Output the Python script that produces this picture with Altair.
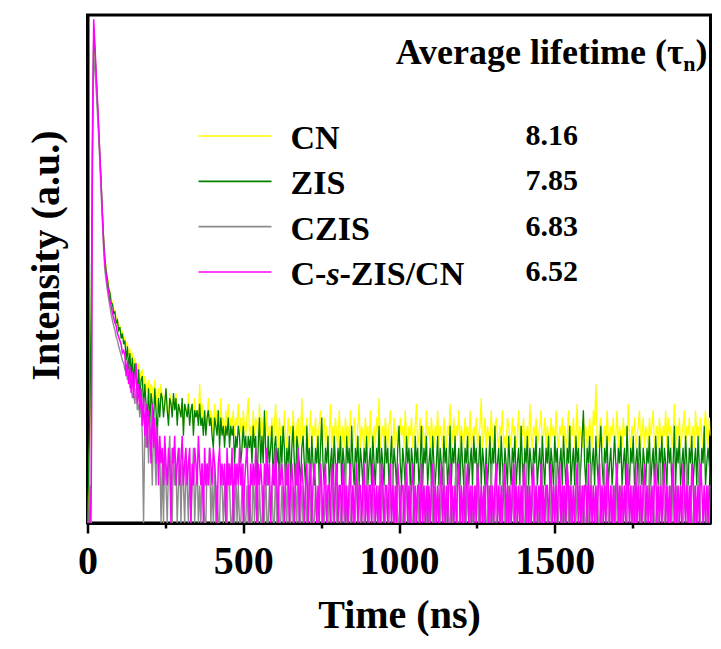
import altair as alt
import pandas as pd

SERIES = ["CN", "ZIS", "CZIS", "C-s-ZIS/CN"]
LIFETIMES = ["8.16", "7.85", "6.83", "6.52"]
COLORS = ["#FFFF00", "#008000", "#8C8C8C", "#FF00FF"]
HEADER = "Average lifetime (τ"
HEADER_SUB = "n"
HEADER_END = ")"
X_TICKS = [0, 250, 500, 750, 1000, 1250, 1500, 1750]

# time channels (ns), 4 ns apart
TIME_NS = list(range(0, 2001, 4))

CN_COUNTS = [
    1, 2, 6, 40, 900, 8000, 5600, 3500, 2200, 1350, 830, 500, 300, 190, 135,
    108, 92, 80, 71, 63, 58, 52, 50, 44, 43, 38, 38, 33, 34, 29, 31, 26, 28, 22, 25,
    20, 23, 17, 21, 18, 15, 19, 14, 16, 17, 12, 15, 13, 11, 14, 10, 13, 12, 9, 14,
    11, 8, 12, 10, 13,
    10, 8, 9, 12, 8, 7, 11, 9, 8, 10, 9, 11, 7, 9, 8, 8, 10, 6, 9, 8,
    8, 11, 7, 8, 9, 6, 10, 7, 8, 7, 13, 7, 9, 6, 8, 6, 7, 10, 6, 8,
    7, 5, 9, 6, 8, 7, 5, 10, 6, 7, 5, 8, 6, 9, 5, 7, 6, 8, 5, 7,
    6, 9, 5, 7, 4, 8, 6, 5, 7, 10, 5, 6, 4, 8, 5, 7, 6, 4, 9, 5,
    7, 4, 6, 5, 8, 4, 6, 5, 7, 4, 6, 9, 5, 4, 7, 5, 6, 4, 8, 5,
    4, 7, 5, 6, 4, 8, 5, 4, 6, 7, 4, 5, 10, 4, 6, 5, 7, 4, 5, 8,
    4, 6, 5, 7, 4, 5, 6, 8, 4, 5, 7, 4, 6, 4, 5, 9, 4, 6, 5, 7,
    5, 4, 8, 5, 4, 6, 4, 7, 5, 6, 4, 8, 5, 4, 7, 5, 4, 6, 9, 4,
    6, 5, 4, 7, 5, 6, 4, 8, 4, 5, 6, 4, 7, 5, 10, 4, 5, 6, 4, 7,
    5, 4, 6, 8, 5, 4, 7, 4, 5, 6, 4, 7, 5, 6, 4, 8, 5, 4, 6, 5,
    7, 4, 5, 6, 9, 4, 5, 7, 4, 6, 5, 4, 8, 5, 6, 4, 7, 5, 4, 6,
    5, 8, 4, 6, 5, 4, 7, 5, 4, 6, 5, 9, 4, 5, 7, 4, 6, 5, 8, 4,
    6, 5, 4, 7, 5, 6, 4, 8, 4, 5, 6, 5, 7, 4, 5, 6, 10, 4, 5, 7,
    4, 6, 5, 4, 8, 5, 4, 6, 7, 5, 4, 6, 5, 8, 4, 5, 4, 7, 6, 5,
    4, 7, 5, 6, 4, 5, 8, 4, 6, 5, 7, 4, 5, 6, 4, 9, 5, 4, 6, 5,
    7, 4, 5, 6, 8, 4, 5, 7, 4, 6, 5, 4, 7, 5, 6, 4, 8, 5, 4, 6,
    5, 7, 4, 6, 4, 5, 8, 4, 6, 5, 7, 4, 5, 9, 4, 6, 5, 4, 7, 5,
    6, 4, 5, 7, 5, 4, 8, 6, 13, 5, 4, 6, 7, 4, 5, 6, 4, 8, 5, 4,
    6, 5, 7, 4, 5, 8, 4, 6, 5, 4, 7, 5, 6, 4, 9, 5, 4, 6, 5, 7,
    4, 5, 6, 8, 4, 5, 7, 4, 6, 5, 4, 7, 5, 6, 8, 4, 5, 6, 4, 7,
    5, 4, 6, 5, 8, 4, 7, 5, 6, 4, 5, 9, 4, 6, 5, 7, 4, 5, 6, 8,
    4, 6, 5, 7, 4, 5, 6, 4, 8, 5, 6, 4, 7, 5, 4, 6, 8, 5, 4, 7,
    5,
]

ZIS_COUNTS = [
    0, 3, 8, 60, 1100, 9000, 6000, 3700, 2300, 1400, 850, 510, 300, 185, 130,
    104, 90, 75, 70, 58, 57, 48, 49, 40, 42, 35, 37, 30, 33, 27,
    29, 20, 26, 17, 23, 15, 21, 13, 19, 16, 11, 17, 10, 14, 15,
    8, 13, 9, 7, 12, 6, 11, 9, 6, 12, 8, 5, 10, 7, 11,
    10, 7, 9, 12, 8, 6, 10, 9, 7, 11, 8, 10, 6, 9, 8, 7, 10, 5, 9, 8,
    7, 9, 6, 8, 9, 5, 8, 7, 8, 6, 9, 6, 7, 5, 8, 5, 7, 8, 6, 7,
    5, 4, 7, 6, 5, 8, 4, 7, 5, 6, 4, 6, 5, 7, 4, 6, 5, 6, 3, 5,
    4, 6, 5, 3, 4, 6, 4, 5, 3, 5, 4, 5, 3, 6, 4, 5, 2, 4, 7, 3,
    5, 3, 8, 4, 2, 5, 3, 4, 6, 2, 4, 5, 3, 4, 2, 5, 3, 6, 4, 2,
    4, 3, 5, 2, 4, 6, 3, 2, 5, 4, 3, 2, 4, 5, 3, 2, 6, 3, 4, 2,
    5, 3, 2, 4, 3, 5, 2, 4, 7, 3, 2, 4, 3, 5, 2, 3, 4, 2, 5, 3,
    2, 4, 3, 5, 2, 4, 3, 2, 5, 3, 4, 2, 6, 3, 2, 4, 3, 5, 2, 4,
    3, 2, 4, 3, 5, 2, 3, 4, 2, 5, 3, 2, 4, 3, 6, 2, 4, 3, 2, 5,
    3, 4, 2, 3, 5, 2, 4, 3, 2, 4, 6, 3, 2, 4, 3, 2, 5, 3, 4, 2,
    4, 3, 2, 5, 3, 4, 2, 3, 6, 2, 4, 3, 5, 2, 3, 4, 2, 5, 3, 2,
    3, 5, 2, 4, 3, 2, 5, 3, 4, 2, 3, 6, 2, 4, 3, 5, 2, 3, 4, 2,
    5, 3, 2, 4, 3, 5, 2, 3, 4, 2, 5, 3, 4, 2, 3, 5, 2, 4, 3, 2,
    4, 2, 3, 5, 2, 4, 3, 6, 2, 3, 4, 2, 5, 3, 2, 4, 3, 2, 5, 3,
    2, 4, 3, 5, 2, 3, 4, 2, 6, 3, 2, 4, 3, 5, 2, 4, 3, 2, 4, 3,
    5, 2, 3, 4, 2, 5, 3, 2, 4, 3, 5, 2, 4, 3, 2, 5, 3, 4, 2, 3,
    4, 2, 5, 3, 2, 4, 3, 6, 2, 3, 4, 2, 5, 3, 4, 2, 3, 5, 8, 3,
    2, 4, 3, 5, 2, 3, 4, 2, 5, 3, 2, 4, 6, 3, 2, 4, 3, 5, 2, 3,
    4, 2, 3, 5, 3, 2, 4, 3, 5, 2, 3, 4, 2, 6, 3, 2, 4, 3, 5, 2,
    3, 4, 2, 5, 3, 2, 4, 3, 2, 4, 3, 5, 2, 3, 4, 2, 5, 3, 2, 4,
    3, 5, 2, 4, 3, 2, 5, 3, 4, 2, 3, 6, 2, 4, 3, 5, 2, 3, 4, 2,
    5, 3, 2, 4, 3, 5, 2, 3, 4, 2, 5, 3, 2, 4, 3, 6, 2, 3, 4, 3,
    2,
]

CZIS_COUNTS = [
    1, 0, 2, 1, 900, 5400, 4300, 2900, 1900, 1200, 720, 430, 250, 150, 105,
    86, 72, 62, 54, 47, 42, 38, 35, 31, 29, 26, 24, 22, 20, 19, 17, 18, 14, 15, 12,
    13, 10, 11, 9, 12, 8, 9, 7, 10, 5, 0, 6, 4, 7, 3, 6, 5, 2, 6, 4,
    2, 5, 3, 4, 0,
    3, 1, 4, 2, 0, 3, 5, 2, 1, 4, 2, 3, 0, 2, 4, 1, 3, 2, 0, 3,
    2, 1, 3, 0, 2, 4, 1, 2, 3, 0, 2, 1, 3, 2, 0, 1, 3, 2, 4, 1,
    2, 0, 3, 1, 2, 1, 0, 3, 2, 1, 2, 0, 1, 3, 2, 1, 0, 2, 1, 3,
    1, 2, 0, 1, 2, 3, 1, 0, 2, 1, 2, 1, 0, 3, 1, 2, 0, 1, 2, 1,
    0, 2, 1, 3, 1, 0, 2, 1, 2, 0, 1, 3, 1, 2, 0, 1, 2, 1, 0, 2,
    1, 3, 0, 1, 2, 1, 0, 2, 1, 3, 0, 1, 2, 0, 1, 2, 1, 0, 3, 1,
    2, 0, 1, 2, 1, 0, 2, 3, 1, 0, 1, 2, 0, 1, 2, 1, 0, 2, 1, 3,
    0, 1, 2, 1, 0, 2, 1, 3, 0, 1, 2, 1, 0, 2, 1, 0, 3, 1, 2, 0,
    1, 2, 0, 1, 3, 1, 0, 2, 1, 2, 0, 1, 2, 1, 0, 3, 1, 2, 0, 1,
    2, 1, 0, 2, 1, 3, 0, 1, 2, 0, 1, 2, 1, 0, 2, 1, 3, 0, 1, 2,
    0, 1, 2, 1, 0, 2, 1, 0, 3, 1, 2, 0, 1, 2, 1, 0, 2, 1, 3, 0,
    1, 2, 0, 1, 2, 1, 3, 0, 1, 2, 0, 1, 2, 1, 0, 2, 3, 1, 0, 1,
    2, 1, 0, 3, 1, 2, 0, 1, 2, 1, 0, 2, 1, 3, 0, 1, 2, 0, 1, 2,
    1, 0, 2, 1, 3, 0, 1, 2, 1, 0, 2, 1, 0, 2, 3, 1, 0, 1, 2, 1,
    0, 2, 1, 3, 0, 1, 2, 1, 0, 2, 1, 0, 3, 1, 2, 0, 1, 2, 1, 0,
    2, 1, 0, 2, 1, 3, 0, 1, 2, 0, 1, 2, 1, 0, 2, 1, 3, 0, 1, 2,
    1, 0, 2, 1, 0, 3, 1, 2, 0, 1, 2, 1, 0, 2, 1, 3, 0, 1, 2, 1,
    0, 2, 1, 0, 3, 1, 2, 0, 1, 2, 1, 0, 2, 1, 0, 3, 1, 2, 0, 1,
    2, 1, 0, 2, 1, 3, 0, 1, 2, 1, 0, 2, 1, 0, 3, 1, 2, 0, 1, 2,
    1, 0, 2, 3, 1, 0, 2, 1, 0, 2, 1, 3, 0, 1, 2, 1, 0, 2, 1, 0,
    3, 1, 2, 0, 1, 2, 1, 0, 2, 1, 3, 0, 1, 2, 0, 1, 2, 1, 0, 2,
    1, 3, 0, 1, 2, 1, 0, 2, 1, 0, 2, 3, 1, 0, 1, 2, 1, 0, 2, 1,
    2,
]

CSZIS_COUNTS = [
    0, 1, 0, 2, 1400, 10800, 6600, 3900, 2400, 1450, 860, 500, 290, 170, 118,
    96, 80, 70, 60, 55, 48, 44, 40, 38, 33, 31, 29, 27, 23, 24,
    22, 15, 20, 13, 18, 11, 16, 10, 14, 19, 9, 13, 8, 12, 6,
    10, 5, 9, 4, 8, 6, 3, 9, 4, 7, 3, 6, 2, 5, 3,
    4, 2, 5, 3, 2, 4, 3, 1, 4, 3, 5, 2, 3, 4, 2, 3, 5, 2, 3, 4,
    2, 3, 4, 1, 3, 2, 4, 3, 2, 5, 3, 2, 3, 1, 4, 2, 3, 2, 4, 3,
    2, 4, 3, 2, 1, 3, 4, 2, 3, 2, 3, 1, 4, 2, 3, 2, 4, 1, 3, 2,
    3, 2, 4, 2, 3, 1, 2, 3, 4, 2, 1, 3, 2, 3, 2, 4, 1, 3, 2, 3,
    2, 1, 3, 2, 4, 2, 3, 1, 2, 3, 2, 4, 2, 1, 3, 2, 3, 2, 1, 3,
    2, 3, 1, 2, 3, 2, 1, 3, 2, 4, 1, 2, 3, 2, 1, 2, 3, 1, 2, 3,
    1, 2, 3, 2, 1, 2, 0, 3, 2, 1, 2, 3, 1, 2, 2, 1, 3, 2, 1, 2,
    3, 1, 2, 2, 1, 3, 2, 1, 2, 0, 2, 3, 1, 2, 1, 2, 3, 1, 2, 2,
    1, 2, 3, 1, 2, 1, 2, 2, 1, 3, 2, 1, 2, 0, 2, 1, 3, 2, 1, 2,
    2, 1, 2, 3, 1, 2, 1, 2, 1, 3, 2, 1, 2, 2, 1, 2, 3, 1, 2, 1,
    2, 3, 1, 2, 1, 2, 2, 1, 3, 1, 2, 1, 2, 0, 2, 1, 2, 3, 1, 2,
    1, 2, 1, 2, 3, 1, 2, 1, 2, 1, 2, 3, 1, 2, 1, 2, 1, 2, 3, 1,
    2, 1, 2, 1, 2, 3, 1, 2, 0, 2, 1, 2, 1, 3, 2, 1, 2, 1, 2, 1,
    3, 2, 1, 2, 1, 2, 1, 2, 3, 1, 2, 1, 2, 1, 2, 3, 1, 2, 1, 2,
    1, 2, 3, 1, 2, 1, 2, 1, 2, 1, 3, 2, 1, 2, 0, 2, 1, 2, 3, 1,
    2, 1, 2, 1, 3, 1, 2, 1, 2, 2, 1, 2, 3, 1, 2, 1, 2, 1, 2, 3,
    1, 2, 1, 2, 1, 3, 2, 1, 2, 1, 2, 1, 2, 3, 1, 2, 1, 2, 1, 2,
    2, 1, 3, 1, 2, 1, 2, 0, 2, 1, 2, 3, 1, 2, 1, 2, 1, 3, 2, 1,
    2, 1, 2, 1, 2, 3, 1, 2, 1, 2, 1, 2, 1, 3, 2, 1, 2, 1, 2, 1,
    3, 1, 2, 1, 2, 1, 2, 3, 1, 2, 1, 2, 0, 2, 1, 2, 3, 1, 2, 1,
    2, 1, 2, 3, 1, 2, 1, 2, 1, 2, 3, 1, 2, 1, 2, 1, 2, 1, 3, 2,
    1, 2, 1, 2, 1, 3, 2, 1, 2, 1, 2, 1, 3, 2, 1, 2, 1, 2, 1, 2,
    2,
]

FONT = "Times New Roman, Liberation Serif, DejaVu Serif, serif"
ALL_COUNTS = [CN_COUNTS, ZIS_COUNTS, CZIS_COUNTS, CSZIS_COUNTS]
STROKES = [1.3, 1.3, 1.4, 1.5]

frames = []
for name, counts in zip(SERIES, ALL_COUNTS):
    n = min(len(counts), len(TIME_NS))
    frames.append(pd.DataFrame({"series": name, "time": TIME_NS[:n], "counts": counts[:n]}))
data = pd.concat(frames, ignore_index=True)

color_scale = alt.Scale(domain=SERIES, range=COLORS)

x_enc = alt.X(
    "time:Q",
    scale=alt.Scale(domain=[0, 2000], nice=False, zero=False),
    axis=alt.Axis(
        values=X_TICKS,
        format="d",
        labelExpr="datum.value % 500 === 0 ? datum.label : ''",
        tickSize={"condition": {"test": "datum.value % 500 === 0", "value": 10}, "value": 5},
        tickWidth=2.5,
        tickColor="black",
        labelFont=FONT,
        labelFontWeight="bold",
        labelFontSize=40,
        labelColor="black",
        labelPadding=8,
        labelFlush=False,
        title="Time (ns)",
        titleFont=FONT,
        titleFontWeight="bold",
        titleFontSize=40,
        titleColor="black",
        titleBaseline="alphabetic",
        titleY=104,
        domainColor="black",
        domainWidth=3,
        grid=False,
    ),
)

y_enc = alt.Y(
    "yv:Q",
    scale=alt.Scale(type="log", domain=[1, 11700], nice=False, clamp=True),
    axis=alt.Axis(
        labels=False,
        ticks=False,
        grid=False,
        domainColor="black",
        domainWidth=3,
        title="Intensity (a.u.)",
        titleFont=FONT,
        titleFontWeight="bold",
        titleFontSize=40,
        titleColor="black",
        titlePadding=21,
        titleY=240,
    ),
)

base = alt.Chart(data).transform_calculate(yv="max(datum.counts, 0.5)")
line_layers = []
for name, sw in zip(SERIES, STROKES):
    line_layers.append(
        base.transform_filter(alt.datum.series == name)
        .mark_line(strokeWidth=sw, clip=True)
        .encode(
            x=x_enc,
            y=y_enc,
            color=alt.Color("series:N", scale=color_scale, legend=None),
        )
    )
curves = alt.layer(*line_layers)

leg = pd.DataFrame({"series": SERIES, "life": LIFETIMES})
leg_y = alt.Y(
    "series:N",
    scale=alt.Scale(type="point", domain=SERIES, range=[121, 257], padding=0),
    axis=None,
)

leg_lines = alt.Chart(leg).mark_rule(strokeWidth=1.6).encode(
    x=alt.value(111), x2=alt.value(184), y=leg_y,
    color=alt.Color("series:N", scale=color_scale, legend=None),
)
name_style = dict(align="left", baseline="alphabetic", font=FONT, fontWeight="bold",
                  fontSize=34, color="black", dy=13)
leg_names = alt.Chart(leg.iloc[:3]).mark_text(**name_style).encode(
    x=alt.value(203), y=leg_y, text="series:N")

last = pd.DataFrame({"series": [SERIES[3]]})
p1, p2, p3 = SERIES[3].split("-", 2)
last_a = alt.Chart(last).mark_text(**name_style).encode(
    x=alt.value(203), y=leg_y, text=alt.value(p1 + "-"))
last_b = alt.Chart(last).mark_text(fontStyle="italic", **name_style).encode(
    x=alt.value(239), y=leg_y, text=alt.value(p2))
last_c = alt.Chart(last).mark_text(**name_style).encode(
    x=alt.value(252), y=leg_y, text=alt.value("-" + p3))

leg_vals = alt.Chart(leg).mark_text(
    align="left", baseline="alphabetic", font=FONT, fontWeight="bold",
    fontSize=30, color="black", dy=9,
).encode(x=alt.value(438), y=leg_y, text="life:N")

head_style = dict(baseline="alphabetic", font=FONT, fontWeight="bold", color="black", align="right")
head_main = alt.Chart(last).mark_text(fontSize=36, **head_style).encode(
    x=alt.value(596), y=alt.value(49), text=alt.value(HEADER))
head_sub = alt.Chart(last).mark_text(fontSize=22, **head_style).encode(
    x=alt.value(608), y=alt.value(56), text=alt.value(HEADER_SUB))
head_end = alt.Chart(last).mark_text(fontSize=36, **head_style).encode(
    x=alt.value(620), y=alt.value(49), text=alt.value(HEADER_END))

legend = alt.layer(leg_lines, leg_names, last_a, last_b, last_c, leg_vals,
                   head_main, head_sub, head_end)

chart = (
    alt.layer(curves, legend)
    .resolve_scale(y="independent")
    .properties(
        width=623,
        height=508,
        autosize=alt.AutoSizeParams(type="none"),
        padding={"left": 79.5, "top": 7, "right": 2.5, "bottom": 113},
        background="white",
    )
    .configure_view(stroke="black", strokeWidth=3)
)

chart.save("out.html", embed_options={"renderer": "svg", "actions": False})
